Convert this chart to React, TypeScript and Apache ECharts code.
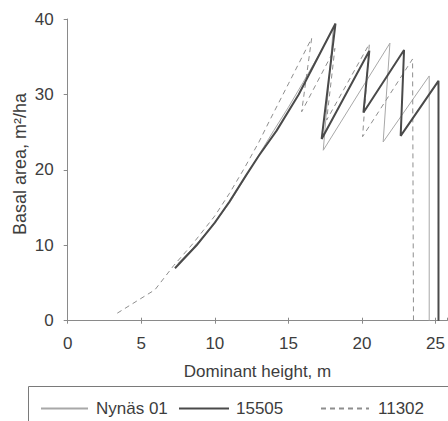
import React, { useEffect, useRef } from "react";
import * as echarts from "echarts";

const seriesNames = ["Nynäs 01", "15505", "11302"];

const nynas01: number[][] = [
  [7.5, 7.6], [8.5, 9.6], [10, 13.0], [11, 15.6], [12, 18.8], [13, 22.0],
  [14, 25.2], [15, 28.3], [16, 31.6], [17, 35.0], [18.05, 38.8],
  [17.37, 22.6], [21.9, 36.8], [21.44, 23.7], [24.57, 32.45], [24.57, 0],
];

const s15505: number[][] = [
  [7.29, 6.95], [8.76, 10], [10, 13], [11, 15.8], [12.1, 19.2], [13, 21.9],
  [14.2, 25.2], [15.7, 30], [18.2, 39.4], [17.26, 24.1], [20.5, 35.8],
  [20.1, 27.6], [22.86, 35.9], [22.63, 24.5], [25.2, 31.8], [25.2, 0],
];

const s11302: number[][] = [
  [3.37, 1.0], [5.93, 4.1], [7.2, 7.3], [8.5, 10.2], [10, 13.9], [11, 16.9],
  [12, 20.2], [13, 23.7], [13.74, 26.6], [15, 31.4], [16.58, 37.45],
  [15.9, 27.7], [18.16, 36.1], [17.6, 26.6], [20.5, 36.7], [20.04, 24.4],
  [23.44, 34.7], [23.5, 0],
];

const xTicks = { min: 0, max: 25.8, interval: 5 };
const yTicks = { min: 0, max: 40, interval: 10 };

const FONT = "Liberation Sans, Arial, sans-serif";
const TEXT = "#3d3d3d";
const AXIS = "#8a8a8a";

export default function App() {
  const ref = useRef<HTMLDivElement>(null);
  useEffect(() => {
    if (!ref.current) return;
    const chart = echarts.init(ref.current, undefined, { renderer: "svg" });
    const legendBase = {
      top: 395,
      itemWidth: 47,
      itemHeight: 14,
      itemStyle: { opacity: 0, color: "transparent", borderWidth: 0 },
      textStyle: { fontFamily: FONT, fontSize: 17, color: TEXT },
      selectedMode: false,
    };
    chart.setOption({
      animation: false,
      backgroundColor: "#ffffff",
      grid: { left: 67.7, right: 0, top: 19, bottom: 100.3, containLabel: false },
      xAxis: [
        {
          type: "value",
          ...xTicks,
          name: "Dominant height, m",
          nameLocation: "middle",
          nameGap: 42,
          nameTextStyle: { fontFamily: FONT, fontSize: 17, color: TEXT },
          axisLine: { show: true, lineStyle: { color: AXIS, width: 1 } },
          axisTick: { show: true, inside: false, length: 3, lineStyle: { color: AXIS } },
          axisLabel: { fontFamily: FONT, fontSize: 17, color: TEXT, margin: 14, showMaxLabel: false },
          splitLine: { show: false },
        },
        {
          type: "value",
          position: "bottom",
          ...xTicks,
          axisLine: { show: false },
          axisTick: { show: true, inside: true, length: 3, lineStyle: { color: AXIS } },
          axisLabel: { show: false },
          splitLine: { show: false },
        },
      ],
      yAxis: {
        type: "value",
        ...yTicks,
        axisLine: { show: true, lineStyle: { color: AXIS, width: 1 } },
        axisTick: { show: true, inside: false, length: 4, lineStyle: { color: AXIS } },
        axisLabel: { fontFamily: FONT, fontSize: 17, color: TEXT, margin: 14 },
        splitLine: { show: false },
      },
      legend: [
        { ...legendBase, left: 35, data: [seriesNames[0]], textStyle: { ...legendBase.textStyle, padding: [0, 0, 0, 3] } },
        { ...legendBase, left: 173, itemWidth: 50, data: [seriesNames[1]], textStyle: { ...legendBase.textStyle, padding: [0, 0, 0, 2] } },
        { ...legendBase, left: 315, itemWidth: 48, data: [seriesNames[2]], textStyle: { ...legendBase.textStyle, padding: [0, 0, 0, 4] } },
      ],
      graphic: [
        {
          type: "rect",
          shape: { x: 28.5, y: 386.5, width: 440, height: 60 },
          style: { fill: "none", stroke: "#7a7a7a", lineWidth: 1 },
          silent: true,
        },
        {
          type: "text",
          x: 19.5,
          y: 164,
          rotation: Math.PI / 2,
          style: {
            text: "Basal area, m²/ha",
            fontFamily: FONT,
            fontSize: 18,
            fill: TEXT,
            align: "center",
            verticalAlign: "middle",
          },
        },
      ],
      series: [
        {
          name: seriesNames[0],
          type: "line",
          data: nynas01,
          symbol: "none",
          lineStyle: { color: "#a8a8a8", width: 1 },
          itemStyle: { color: "#a8a8a8" },
          z: 2,
        },
        {
          name: seriesNames[1],
          type: "line",
          data: s15505,
          symbol: "none",
          lineStyle: { color: "#4a4a4a", width: 2 },
          itemStyle: { color: "#4a4a4a" },
          z: 3,
        },
        {
          name: seriesNames[2],
          type: "line",
          data: s11302,
          symbol: "none",
          lineStyle: { color: "#8e8e8e", width: 1, type: [5, 4] },
          itemStyle: { color: "#8e8e8e" },
          z: 2,
        },
      ],
    });
    return () => chart.dispose();
  }, []);
  return <div ref={ref} style={{ width: 448, height: 421, position: "absolute", left: 0, top: 0 }} />;
}
